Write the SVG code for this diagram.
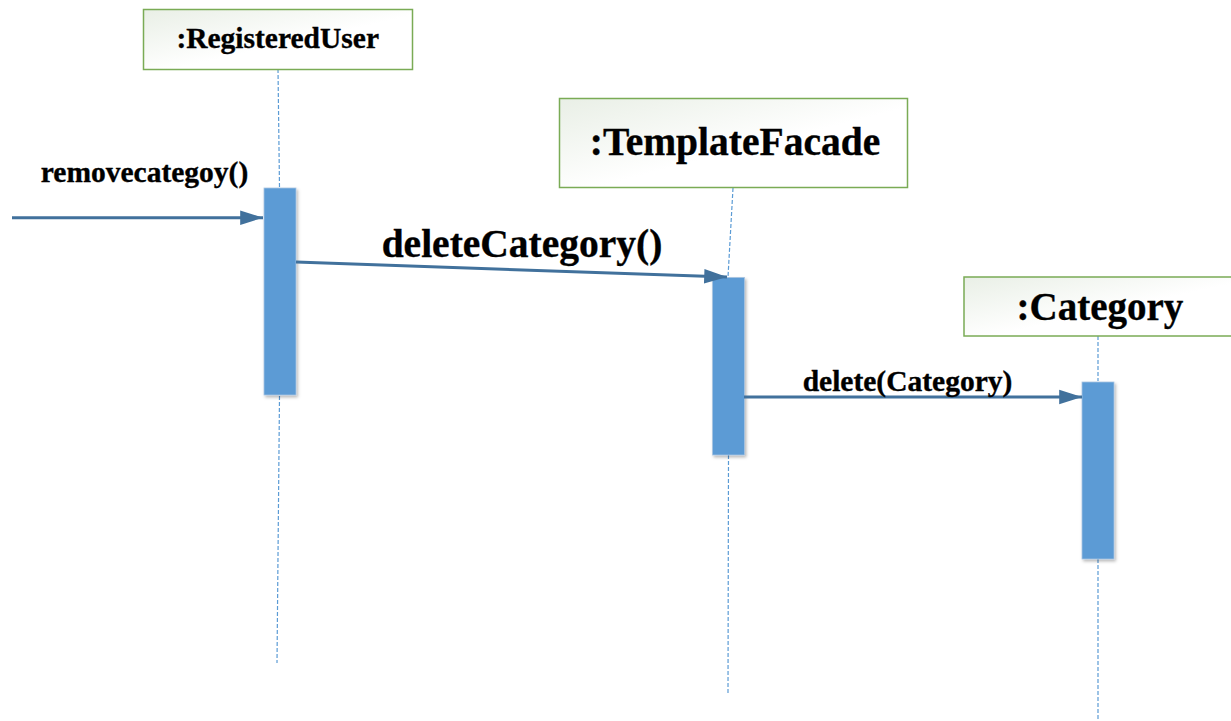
<svg xmlns="http://www.w3.org/2000/svg" width="1231" height="721" viewBox="0 0 1231 721">
<style>
.obj{stroke:#7aab55;stroke-width:1.5;fill:url(#objfill)}
.lbl{font-family:"Liberation Serif","Times New Roman",serif;font-weight:bold;fill:#000;stroke:#000;stroke-width:0.35}
.life{stroke:#5b9bd5;stroke-width:1.2;stroke-dasharray:4 2;fill:none}
.act{fill:#5b9bd5;stroke:#a9c4e0;stroke-width:0.8;filter:url(#shadow)}
.msg{stroke:#41719c;stroke-width:3;fill:none;marker-end:url(#arrow)}
</style>
<defs>
<linearGradient id="objfill" x1="0" y1="0" x2="1" y2="1">
<stop offset="0" stop-color="#e9efe6"/>
<stop offset="0.55" stop-color="#ffffff"/>
<stop offset="1" stop-color="#ffffff"/>
</linearGradient>
<filter id="shadow" x="-30%" y="-10%" width="160%" height="120%">
<feDropShadow dx="1.5" dy="2" stdDeviation="1.8" flood-color="#000" flood-opacity="0.28"/>
</filter>
<marker id="arrow" markerWidth="8" markerHeight="6" refX="7.6" refY="3" orient="auto" markerUnits="strokeWidth">
<path d="M0,0.6 L7.6,3 L0,5.4 Z" fill="#41719c"/>
</marker>
</defs>
<rect width="1231" height="721" fill="#fff"/>

<g id="lifelines">
<path class="life" d="M278,69 L279.5,188 M279.5,396 L277,663"/>
<path class="life" d="M733,188 L728,277 M728.5,455 L728,693"/>
<path class="life" d="M1098,336 L1098,381 M1098,559 L1098,720"/>
</g>

<g id="node-registereduser">
<rect class="obj" x="143.5" y="9.5" width="269" height="60"/>
<text class="lbl" x="277.7" y="48.3" font-size="29.5" text-anchor="middle">:RegisteredUser</text>
<rect class="act" x="264" y="188" width="32" height="207"/>
</g>

<g id="node-templatefacade">
<rect class="obj" x="559.5" y="98.5" width="348" height="89"/>
<text class="lbl" x="735" y="155" font-size="39.5" text-anchor="middle">:TemplateFacade</text>
<rect class="act" x="712.5" y="277.5" width="32" height="177.5"/>
</g>

<g id="node-category">
<rect class="obj" x="964" y="277" width="272" height="59"/>
<text class="lbl" x="1100" y="319.5" font-size="39" text-anchor="middle">:Category</text>
<rect class="act" x="1082" y="382" width="32" height="177"/>
</g>

<g id="connectors">
<line class="msg" x1="12" y1="217.7" x2="263" y2="217.7"/>
<text class="lbl" x="144.5" y="181.7" font-size="29.5" text-anchor="middle">removecategoy()</text>
<line class="msg" x1="296" y1="262" x2="727" y2="277"/>
<text class="lbl" x="522" y="257.3" font-size="39.5" text-anchor="middle">deleteCategory()</text>
<line class="msg" x1="744" y1="397" x2="1082" y2="397"/>
<text class="lbl" x="907.5" y="391" font-size="29.5" text-anchor="middle">delete(Category)</text>
</g>
</svg>
